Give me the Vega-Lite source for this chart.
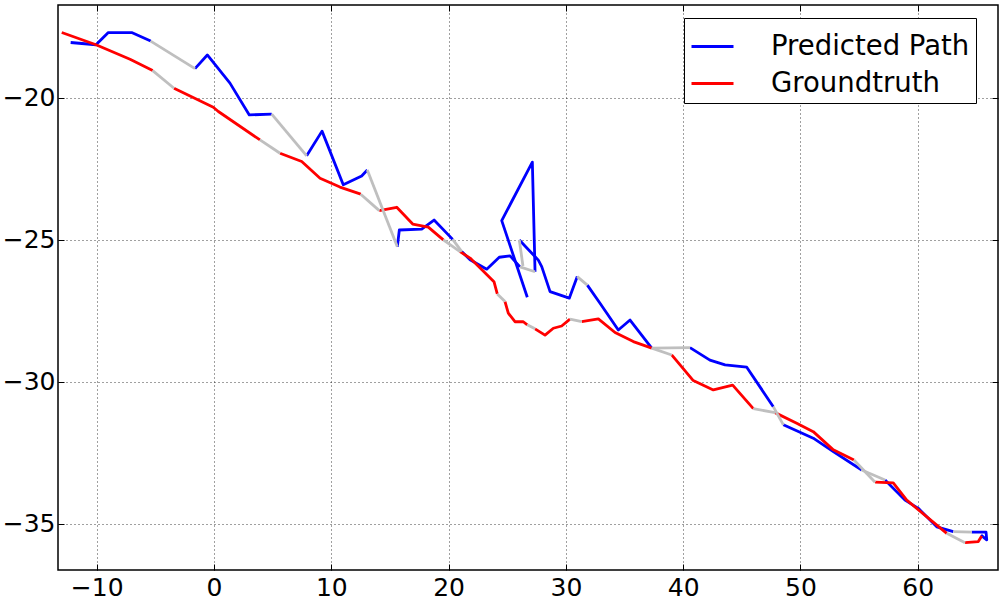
{
  "$schema": "https://vega.github.io/schema/vega-lite/v6.json",
  "width": 940,
  "height": 565,
  "autosize": {"type": "none"},
  "padding": {"left": 58, "top": 5, "right": 7, "bottom": 30},
  "background": "white",
  "config": {
    "view": {"stroke": "black", "strokeWidth": 1.5},
    "axis": {
      "labelFont": "DejaVu Sans",
      "labelFontSize": 25,
      "labelColor": "black",
      "domain": false,
      "tickColor": "black",
      "tickWidth": 1,
      "tickSize": -6,
      "gridColor": "black",
      "gridOpacity": 0.75,
      "gridDash": [1, 3],
      "gridWidth": 1,
      "labelFlush": false,
      "labelOverlap": false,
      "title": null
    }
  },
  "data": {
    "values": [
      {"series": "Predicted Path", "seg": "b1", "step": 1, "x": -12.22, "y": -18.06},
      {"series": "Predicted Path", "seg": "b1", "step": 2, "x": -10.06, "y": -18.14},
      {"series": "Predicted Path", "seg": "b1", "step": 3, "x": -9.01, "y": -17.71},
      {"series": "Predicted Path", "seg": "b1", "step": 4, "x": -7.02, "y": -17.71},
      {"series": "Predicted Path", "seg": "b1", "step": 5, "x": -5.40, "y": -18.01},
      {"series": "Predicted Path", "seg": "b2", "step": 1, "x": -1.62, "y": -18.98},
      {"series": "Predicted Path", "seg": "b2", "step": 2, "x": -0.57, "y": -18.50},
      {"series": "Predicted Path", "seg": "b2", "step": 3, "x": 1.36, "y": -19.49},
      {"series": "Predicted Path", "seg": "b2", "step": 4, "x": 3.01, "y": -20.61},
      {"series": "Predicted Path", "seg": "b2", "step": 5, "x": 4.92, "y": -20.58},
      {"series": "Predicted Path", "seg": "b3", "step": 1, "x": 7.90, "y": -22.05},
      {"series": "Predicted Path", "seg": "b3", "step": 2, "x": 9.21, "y": -21.18},
      {"series": "Predicted Path", "seg": "b3", "step": 3, "x": 11.02, "y": -23.07},
      {"series": "Predicted Path", "seg": "b3", "step": 4, "x": 12.59, "y": -22.76},
      {"series": "Predicted Path", "seg": "b3", "step": 5, "x": 13.07, "y": -22.55},
      {"series": "Predicted Path", "seg": "b4", "step": 1, "x": 15.63, "y": -25.25},
      {"series": "Predicted Path", "seg": "b4", "step": 2, "x": 15.80, "y": -24.66},
      {"series": "Predicted Path", "seg": "b4", "step": 3, "x": 17.71, "y": -24.63},
      {"series": "Predicted Path", "seg": "b4", "step": 4, "x": 18.76, "y": -24.31},
      {"series": "Predicted Path", "seg": "b4", "step": 5, "x": 20.35, "y": -24.99},
      {"series": "Predicted Path", "seg": "b5", "step": 1, "x": 21.12, "y": -25.42},
      {"series": "Predicted Path", "seg": "b5", "step": 2, "x": 21.83, "y": -25.71},
      {"series": "Predicted Path", "seg": "b5", "step": 3, "x": 23.25, "y": -26.04},
      {"series": "Predicted Path", "seg": "b5", "step": 4, "x": 24.32, "y": -25.62},
      {"series": "Predicted Path", "seg": "b5", "step": 5, "x": 25.24, "y": -25.57},
      {"series": "Predicted Path", "seg": "b5", "step": 6, "x": 26.09, "y": -25.96},
      {"series": "Predicted Path", "seg": "b6", "step": 1, "x": 27.37, "y": -26.13},
      {"series": "Predicted Path", "seg": "b6", "step": 2, "x": 27.14, "y": -22.27},
      {"series": "Predicted Path", "seg": "b6", "step": 3, "x": 24.53, "y": -24.33},
      {"series": "Predicted Path", "seg": "b6", "step": 4, "x": 26.71, "y": -27.03},
      {"series": "Predicted Path", "seg": "b7", "step": 1, "x": 26.03, "y": -25.01},
      {"series": "Predicted Path", "seg": "b7", "step": 2, "x": 27.65, "y": -25.72},
      {"series": "Predicted Path", "seg": "b7", "step": 3, "x": 27.94, "y": -25.95},
      {"series": "Predicted Path", "seg": "b7", "step": 4, "x": 28.65, "y": -26.83},
      {"series": "Predicted Path", "seg": "b7", "step": 5, "x": 30.29, "y": -27.06},
      {"series": "Predicted Path", "seg": "b7", "step": 6, "x": 30.97, "y": -26.30},
      {"series": "Predicted Path", "seg": "b8", "step": 1, "x": 31.83, "y": -26.60},
      {"series": "Predicted Path", "seg": "b8", "step": 2, "x": 32.91, "y": -27.24},
      {"series": "Predicted Path", "seg": "b8", "step": 3, "x": 34.47, "y": -28.18},
      {"series": "Predicted Path", "seg": "b8", "step": 4, "x": 35.47, "y": -27.83},
      {"series": "Predicted Path", "seg": "b8", "step": 5, "x": 37.32, "y": -28.82},
      {"series": "Predicted Path", "seg": "b9", "step": 1, "x": 40.58, "y": -28.80},
      {"series": "Predicted Path", "seg": "b9", "step": 2, "x": 42.28, "y": -29.24},
      {"series": "Predicted Path", "seg": "b9", "step": 3, "x": 43.57, "y": -29.41},
      {"series": "Predicted Path", "seg": "b9", "step": 4, "x": 45.42, "y": -29.49},
      {"series": "Predicted Path", "seg": "b9", "step": 5, "x": 47.68, "y": -30.88},
      {"series": "Predicted Path", "seg": "b10", "step": 1, "x": 48.54, "y": -31.52},
      {"series": "Predicted Path", "seg": "b10", "step": 2, "x": 51.09, "y": -31.99},
      {"series": "Predicted Path", "seg": "b10", "step": 3, "x": 52.80, "y": -32.46},
      {"series": "Predicted Path", "seg": "b10", "step": 4, "x": 55.22, "y": -33.11},
      {"series": "Predicted Path", "seg": "b11", "step": 1, "x": 57.21, "y": -33.46},
      {"series": "Predicted Path", "seg": "b11", "step": 2, "x": 58.91, "y": -34.17},
      {"series": "Predicted Path", "seg": "b11", "step": 3, "x": 60.05, "y": -34.46},
      {"series": "Predicted Path", "seg": "b11", "step": 4, "x": 61.62, "y": -35.11},
      {"series": "Predicted Path", "seg": "b11", "step": 5, "x": 63.03, "y": -35.28},
      {"series": "Predicted Path", "seg": "b12", "step": 1, "x": 64.60, "y": -35.30},
      {"series": "Predicted Path", "seg": "b12", "step": 2, "x": 65.82, "y": -35.30},
      {"series": "Predicted Path", "seg": "b12", "step": 3, "x": 65.88, "y": -35.57},
      {"series": "Predicted Path", "seg": "b12", "step": 4, "x": 65.39, "y": -35.40},

      {"series": "Groundtruth", "seg": "r1", "step": 1, "x": -12.98, "y": -17.71},
      {"series": "Groundtruth", "seg": "r1", "step": 2, "x": -10.06, "y": -18.14},
      {"series": "Groundtruth", "seg": "r1", "step": 3, "x": -7.16, "y": -18.65},
      {"series": "Groundtruth", "seg": "r1", "step": 4, "x": -5.23, "y": -19.05},
      {"series": "Groundtruth", "seg": "r2", "step": 1, "x": -3.41, "y": -19.67},
      {"series": "Groundtruth", "seg": "r2", "step": 2, "x": -0.06, "y": -20.34},
      {"series": "Groundtruth", "seg": "r2", "step": 3, "x": 0.37, "y": -20.49},
      {"series": "Groundtruth", "seg": "r2", "step": 4, "x": 3.92, "y": -21.49},
      {"series": "Groundtruth", "seg": "r3", "step": 1, "x": 5.63, "y": -21.96},
      {"series": "Groundtruth", "seg": "r3", "step": 2, "x": 7.48, "y": -22.25},
      {"series": "Groundtruth", "seg": "r3", "step": 3, "x": 9.04, "y": -22.84},
      {"series": "Groundtruth", "seg": "r3", "step": 4, "x": 10.74, "y": -23.15},
      {"series": "Groundtruth", "seg": "r3", "step": 5, "x": 12.51, "y": -23.40},
      {"series": "Groundtruth", "seg": "r4", "step": 1, "x": 14.09, "y": -23.98},
      {"series": "Groundtruth", "seg": "r4", "step": 2, "x": 15.58, "y": -23.86},
      {"series": "Groundtruth", "seg": "r4", "step": 3, "x": 16.94, "y": -24.45},
      {"series": "Groundtruth", "seg": "r4", "step": 4, "x": 18.27, "y": -24.56},
      {"series": "Groundtruth", "seg": "r4", "step": 5, "x": 19.55, "y": -25.01},
      {"series": "Groundtruth", "seg": "r5", "step": 1, "x": 20.97, "y": -25.42},
      {"series": "Groundtruth", "seg": "r5", "step": 2, "x": 21.83, "y": -25.65},
      {"series": "Groundtruth", "seg": "r5", "step": 3, "x": 23.87, "y": -26.48},
      {"series": "Groundtruth", "seg": "r5", "step": 4, "x": 24.15, "y": -26.91},
      {"series": "Groundtruth", "seg": "r6", "step": 1, "x": 24.81, "y": -27.18},
      {"series": "Groundtruth", "seg": "r6", "step": 2, "x": 25.09, "y": -27.59},
      {"series": "Groundtruth", "seg": "r6", "step": 3, "x": 25.66, "y": -27.89},
      {"series": "Groundtruth", "seg": "r6", "step": 4, "x": 26.37, "y": -27.89},
      {"series": "Groundtruth", "seg": "r6", "step": 5, "x": 26.71, "y": -28.00},
      {"series": "Groundtruth", "seg": "r7", "step": 1, "x": 27.37, "y": -28.14},
      {"series": "Groundtruth", "seg": "r7", "step": 2, "x": 28.22, "y": -28.36},
      {"series": "Groundtruth", "seg": "r7", "step": 3, "x": 28.93, "y": -28.12},
      {"series": "Groundtruth", "seg": "r7", "step": 4, "x": 29.64, "y": -28.04},
      {"series": "Groundtruth", "seg": "r7", "step": 5, "x": 30.35, "y": -27.80},
      {"series": "Groundtruth", "seg": "r8", "step": 1, "x": 31.35, "y": -27.89},
      {"series": "Groundtruth", "seg": "r8", "step": 2, "x": 32.77, "y": -27.79},
      {"series": "Groundtruth", "seg": "r8", "step": 3, "x": 34.19, "y": -28.27},
      {"series": "Groundtruth", "seg": "r8", "step": 4, "x": 35.75, "y": -28.59},
      {"series": "Groundtruth", "seg": "r8", "step": 5, "x": 37.32, "y": -28.82},
      {"series": "Groundtruth", "seg": "r9", "step": 1, "x": 39.02, "y": -29.06},
      {"series": "Groundtruth", "seg": "r9", "step": 2, "x": 40.86, "y": -29.96},
      {"series": "Groundtruth", "seg": "r9", "step": 3, "x": 42.57, "y": -30.29},
      {"series": "Groundtruth", "seg": "r9", "step": 4, "x": 44.22, "y": -30.12},
      {"series": "Groundtruth", "seg": "r9", "step": 5, "x": 45.98, "y": -30.95},
      {"series": "Groundtruth", "seg": "r10", "step": 1, "x": 47.83, "y": -31.09},
      {"series": "Groundtruth", "seg": "r10", "step": 2, "x": 49.68, "y": -31.46},
      {"series": "Groundtruth", "seg": "r10", "step": 3, "x": 51.09, "y": -31.76},
      {"series": "Groundtruth", "seg": "r10", "step": 4, "x": 52.80, "y": -32.40},
      {"series": "Groundtruth", "seg": "r10", "step": 5, "x": 54.56, "y": -32.76},
      {"series": "Groundtruth", "seg": "r11", "step": 1, "x": 56.36, "y": -33.54},
      {"series": "Groundtruth", "seg": "r11", "step": 2, "x": 57.91, "y": -33.56},
      {"series": "Groundtruth", "seg": "r11", "step": 3, "x": 59.06, "y": -34.17},
      {"series": "Groundtruth", "seg": "r11", "step": 4, "x": 62.47, "y": -35.34},
      {"series": "Groundtruth", "seg": "r12", "step": 1, "x": 64.03, "y": -35.67},
      {"series": "Groundtruth", "seg": "r12", "step": 2, "x": 65.16, "y": -35.63},
      {"series": "Groundtruth", "seg": "r12", "step": 3, "x": 65.45, "y": -35.43},

      {"series": "gap", "seg": "x1", "step": 1, "x": -5.40, "y": -18.01},
      {"series": "gap", "seg": "x1", "step": 2, "x": -1.62, "y": -18.98},
      {"series": "gap", "seg": "x2", "step": 1, "x": 4.92, "y": -20.58},
      {"series": "gap", "seg": "x2", "step": 2, "x": 7.90, "y": -22.05},
      {"series": "gap", "seg": "x3", "step": 1, "x": 13.07, "y": -22.55},
      {"series": "gap", "seg": "x3", "step": 2, "x": 15.63, "y": -25.25},
      {"series": "gap", "seg": "x4", "step": 1, "x": 20.35, "y": -24.99},
      {"series": "gap", "seg": "x4", "step": 2, "x": 21.12, "y": -25.42},
      {"series": "gap", "seg": "x5", "step": 1, "x": 26.09, "y": -25.96},
      {"series": "gap", "seg": "x5", "step": 2, "x": 27.37, "y": -26.13},
      {"series": "gap", "seg": "x6", "step": 1, "x": 26.03, "y": -25.01},
      {"series": "gap", "seg": "x6", "step": 2, "x": 26.34, "y": -25.93},
      {"series": "gap", "seg": "x7", "step": 1, "x": 30.97, "y": -26.30},
      {"series": "gap", "seg": "x7", "step": 2, "x": 31.83, "y": -26.60},
      {"series": "gap", "seg": "x8", "step": 1, "x": 37.32, "y": -28.82},
      {"series": "gap", "seg": "x8", "step": 2, "x": 40.58, "y": -28.80},
      {"series": "gap", "seg": "x9", "step": 1, "x": 47.68, "y": -30.88},
      {"series": "gap", "seg": "x9", "step": 2, "x": 48.54, "y": -31.52},
      {"series": "gap", "seg": "x10", "step": 1, "x": 55.22, "y": -33.11},
      {"series": "gap", "seg": "x10", "step": 2, "x": 57.21, "y": -33.46},
      {"series": "gap", "seg": "x11", "step": 1, "x": 63.03, "y": -35.28},
      {"series": "gap", "seg": "x11", "step": 2, "x": 64.60, "y": -35.30},
      {"series": "gap", "seg": "y1", "step": 1, "x": -5.23, "y": -19.05},
      {"series": "gap", "seg": "y1", "step": 2, "x": -3.41, "y": -19.67},
      {"series": "gap", "seg": "y2", "step": 1, "x": 3.92, "y": -21.49},
      {"series": "gap", "seg": "y2", "step": 2, "x": 5.63, "y": -21.96},
      {"series": "gap", "seg": "y3", "step": 1, "x": 12.51, "y": -23.40},
      {"series": "gap", "seg": "y3", "step": 2, "x": 14.09, "y": -23.98},
      {"series": "gap", "seg": "y4", "step": 1, "x": 19.55, "y": -25.01},
      {"series": "gap", "seg": "y4", "step": 2, "x": 20.97, "y": -25.42},
      {"series": "gap", "seg": "y5", "step": 1, "x": 24.15, "y": -26.91},
      {"series": "gap", "seg": "y5", "step": 2, "x": 24.81, "y": -27.18},
      {"series": "gap", "seg": "y6", "step": 1, "x": 26.71, "y": -28.00},
      {"series": "gap", "seg": "y6", "step": 2, "x": 27.37, "y": -28.14},
      {"series": "gap", "seg": "y7", "step": 1, "x": 30.35, "y": -27.80},
      {"series": "gap", "seg": "y7", "step": 2, "x": 31.35, "y": -27.89},
      {"series": "gap", "seg": "y8", "step": 1, "x": 37.32, "y": -28.82},
      {"series": "gap", "seg": "y8", "step": 2, "x": 39.02, "y": -29.06},
      {"series": "gap", "seg": "y9", "step": 1, "x": 45.98, "y": -30.95},
      {"series": "gap", "seg": "y9", "step": 2, "x": 47.83, "y": -31.09},
      {"series": "gap", "seg": "y10", "step": 1, "x": 54.56, "y": -32.76},
      {"series": "gap", "seg": "y10", "step": 2, "x": 56.36, "y": -33.54},
      {"series": "gap", "seg": "y11", "step": 1, "x": 62.47, "y": -35.34},
      {"series": "gap", "seg": "y11", "step": 2, "x": 64.03, "y": -35.67}
    ]
  },
  "resolve": {"axis": {"x": "independent", "y": "independent"}},
  "layer": [
    {
      "transform": [{"filter": "datum.series === 'Predicted Path'"}],
      "mark": {"type": "line", "strokeWidth": 2.8, "strokeJoin": "round", "clip": true},
      "encoding": {
        "x": {"field": "x", "type": "quantitative", "scale": {"domain": [-13.3, 66.84], "nice": false, "zero": false},
              "axis": {"orient": "bottom", "values": [-10, 0, 10, 20, 30, 40, 50, 60], "grid": true, "labelPadding": 11}},
        "y": {"field": "y", "type": "quantitative", "scale": {"domain": [-36.63, -16.74], "nice": false, "zero": false},
              "axis": {"orient": "left", "values": [-35, -30, -25, -20], "grid": true, "labelPadding": 9}},
        "detail": {"field": "seg"},
        "order": {"field": "step"},
        "color": {"field": "series", "type": "nominal",
                  "scale": {"domain": ["Predicted Path", "Groundtruth"], "range": ["#0000ff", "#ff0000"]},
                  "legend": {"title": null, "orient": "none", "legendX": 626, "legendY": 13,
                             "fillColor": "white", "strokeColor": "black", "padding": 6,
                             "symbolType": "stroke", "symbolSize": 1764, "symbolStrokeWidth": 3,
                             "labelFont": "DejaVu Sans", "labelFontSize": 27.5, "labelColor": "black",
                             "labelLimit": 400, "labelOffset": 36, "rowPadding": 1, "cornerRadius": 0}}
      }
    },
    {
      "transform": [{"filter": "datum.series === 'Groundtruth'"}],
      "mark": {"type": "line", "strokeWidth": 2.8, "strokeJoin": "round", "clip": true},
      "encoding": {
        "x": {"field": "x", "type": "quantitative", "axis": null},
        "y": {"field": "y", "type": "quantitative", "axis": null},
        "detail": {"field": "seg"},
        "order": {"field": "step"},
        "color": {"field": "series", "type": "nominal"}
      }
    },
    {
      "transform": [{"filter": "datum.series === 'gap'"}],
      "mark": {"type": "line", "strokeWidth": 2.8, "strokeJoin": "round", "color": "#bfbfbf", "clip": true},
      "encoding": {
        "x": {"field": "x", "type": "quantitative",
              "axis": {"orient": "top", "values": [-10, 0, 10, 20, 30, 40, 50, 60], "labels": false, "grid": false}},
        "y": {"field": "y", "type": "quantitative",
              "axis": {"orient": "right", "values": [-35, -30, -25, -20], "labels": false, "grid": false}},
        "detail": {"field": "seg"},
        "order": {"field": "step"}
      }
    }
  ]
}
